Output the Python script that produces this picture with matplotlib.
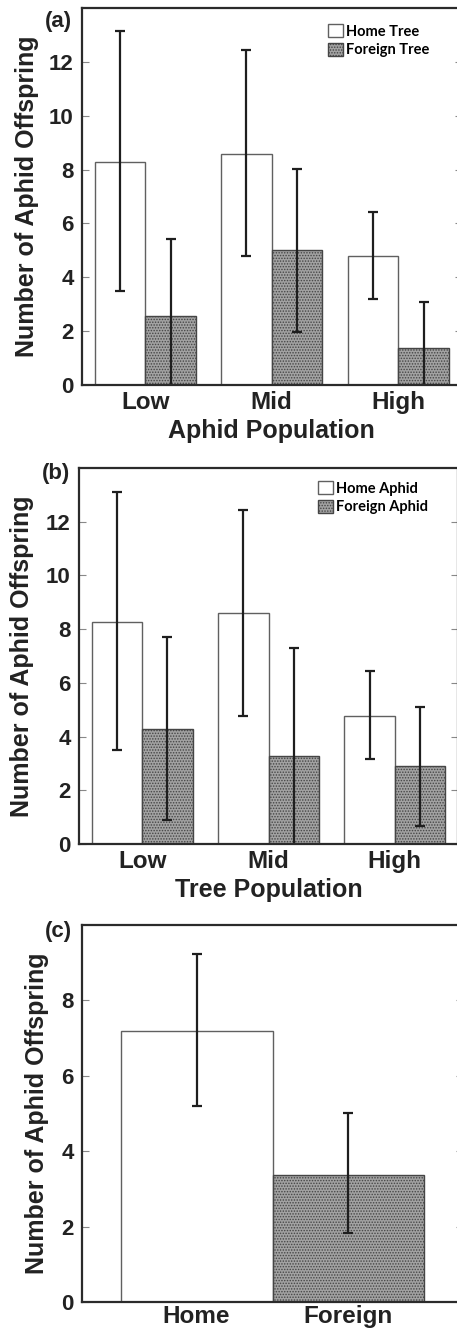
import matplotlib
matplotlib.use('Agg')
import numpy as np
import matplotlib.pyplot as plt
from matplotlib.patches import Patch

plt.rcParams['font.family'] = ['Liberation Sans', 'DejaVu Sans']
plt.rcParams['hatch.color'] = '#5c5c5c'
plt.rcParams['hatch.linewidth'] = 0.7

groups = ['Low', 'Mid', 'High']

# (a) aphids on home vs foreign tree, by aphid population
a_home = [8.28, 8.59, 4.78]
a_home_lo = [3.48, 4.79, 3.18]
a_home_hi = [13.13, 12.44, 6.44]
a_foreign = [2.57, 5.01, 1.37]
a_foreign_lo = [-0.28, 1.97, -0.36]
a_foreign_hi = [5.42, 8.03, 3.10]

# (b) home vs foreign aphids, by tree population
b_home = [8.28, 8.59, 4.77]
b_home_lo = [3.50, 4.78, 3.18]
b_home_hi = [13.12, 12.42, 6.43]
b_foreign = [4.29, 3.29, 2.89]
b_foreign_lo = [0.89, -0.73, 0.68]
b_foreign_hi = [7.69, 7.31, 5.10]

# (c) pooled
c_labels = ['Home', 'Foreign']
c_mean = [7.20, 3.38]
c_lo = [5.21, 1.82]
c_hi = [9.22, 5.01]

W, H = 457, 1330
fig = plt.figure(figsize=(W / 100, H / 100), dpi=100)

WHITE = dict(facecolor='white', edgecolor='#606060', linewidth=1.0)
GREY = dict(facecolor='#a2a2a2', edgecolor='#454545', linewidth=1.0, hatch='......')
ERR = dict(fmt='none', ecolor='#1e1e1e', elinewidth=1.6, capsize=3.5, capthick=1.6)
INK = '#222222'


def px_axes(left, top, right, bottom):
    return fig.add_axes([left / W, 1 - bottom / H, (right - left) / W, (bottom - top) / H])


def bars(ax, x, mean, lo, hi, style, width):
    mean = np.array(mean)
    ax.bar(x, mean, width=width, **style)
    ax.errorbar(x, mean, yerr=[mean - np.array(lo), np.array(hi) - mean], **ERR)


def style_axes(ax, ylim, yticks, xpad):
    ax.set_ylim(*ylim)
    ax.set_yticks(yticks)
    for s in ax.spines.values():
        s.set_linewidth(1.6)
        s.set_color('#2b2b2b')
    ax.tick_params(axis='y', direction='in', length=5, width=0.8, color='#888888',
                   right=True, labelsize=16, pad=6, labelcolor=INK)
    ax.tick_params(axis='x', length=0, labelsize=17.5, pad=xpad, labelcolor=INK)
    for lab in ax.get_xticklabels() + ax.get_yticklabels():
        lab.set_fontweight('bold')


def legend(ax, labels, x, y):
    handles = [Patch(**WHITE), Patch(**GREY)]
    ax.legend(handles, labels, loc='upper left', frameon=False,
              bbox_to_anchor=(x / W, 1 - y / H), bbox_transform=fig.transFigure,
              borderaxespad=0, borderpad=0, handlelength=1.0, handleheight=1.0,
              handletextpad=0.2, labelspacing=0.3,
              prop=dict(family=['Lato', 'DejaVu Sans'], weight='bold', size=10.5))


x = np.arange(len(groups))

# panel (a)
ax1 = px_axes(82, 8, 461.5, 385)
bars(ax1, x - 0.2, a_home, a_home_lo, a_home_hi, WHITE, 0.4)
bars(ax1, x + 0.2, a_foreign, a_foreign_lo, a_foreign_hi, GREY, 0.4)
ax1.set_xlim(-0.5, 2.5)
ax1.set_xticks(x, groups)
style_axes(ax1, (0, 14), range(0, 13, 2), 4)
ax1.set_xlabel('Aphid Population', fontsize=18, fontweight='bold', color=INK)
ax1.xaxis.set_label_coords(0.5, (385 - 431) / 377)
ax1.xaxis.label.set_va('center')
ax1.set_ylabel('Number of Aphid Offspring', fontsize=18, fontweight='bold', color=INK, va='center')
ax1.yaxis.set_label_coords((27 - 82) / 379.5, 0.5)
legend(ax1, ['Home Tree', 'Foreign Tree'], 328, 24)
fig.text(58 / W, 1 - 21 / H, '(a)', ha='center', va='center', fontsize=16, fontweight='bold', color=INK)

# panel (b)
ax2 = px_axes(79, 468, 458, 844)
bars(ax2, x - 0.2, b_home, b_home_lo, b_home_hi, WHITE, 0.4)
bars(ax2, x + 0.2, b_foreign, b_foreign_lo, b_foreign_hi, GREY, 0.4)
ax2.set_xlim(-0.5, 2.5)
ax2.set_xticks(x, groups)
style_axes(ax2, (0, 14), range(0, 13, 2), 4)
ax2.set_xlabel('Tree Population', fontsize=18, fontweight='bold', color=INK)
ax2.xaxis.set_label_coords(0.5, (844 - 890) / 376)
ax2.xaxis.label.set_va('center')
ax2.set_ylabel('Number of Aphid Offspring', fontsize=18, fontweight='bold', color=INK, va='center')
ax2.yaxis.set_label_coords((22.5 - 79) / 379, 0.5)
legend(ax2, ['Home Aphid', 'Foreign Aphid'], 318, 481)
fig.text(56 / W, 1 - 473 / H, '(b)', ha='center', va='center', fontsize=16, fontweight='bold', color=INK)

# panel (c)
ax3 = px_axes(82, 925, 463, 1302)
xc = np.arange(len(c_labels))
bars(ax3, xc[:1], c_mean[:1], c_lo[:1], c_hi[:1], WHITE, 1.0)
bars(ax3, xc[1:], c_mean[1:], c_lo[1:], c_hi[1:], GREY, 1.0)
ax3.set_xlim(-0.755, 1.755)
ax3.set_xticks(xc, c_labels)
style_axes(ax3, (0, 10), range(0, 9, 2), 2.5)
ax3.set_ylabel('Number of Aphid Offspring', fontsize=18, fontweight='bold', color=INK, va='center')
ax3.yaxis.set_label_coords((37.5 - 82) / 381, 0.5)
fig.text(58 / W, 1 - 932 / H, '(c)', ha='center', va='center', fontsize=16, fontweight='bold', color=INK)

fig.savefig('out.png', dpi=100)
